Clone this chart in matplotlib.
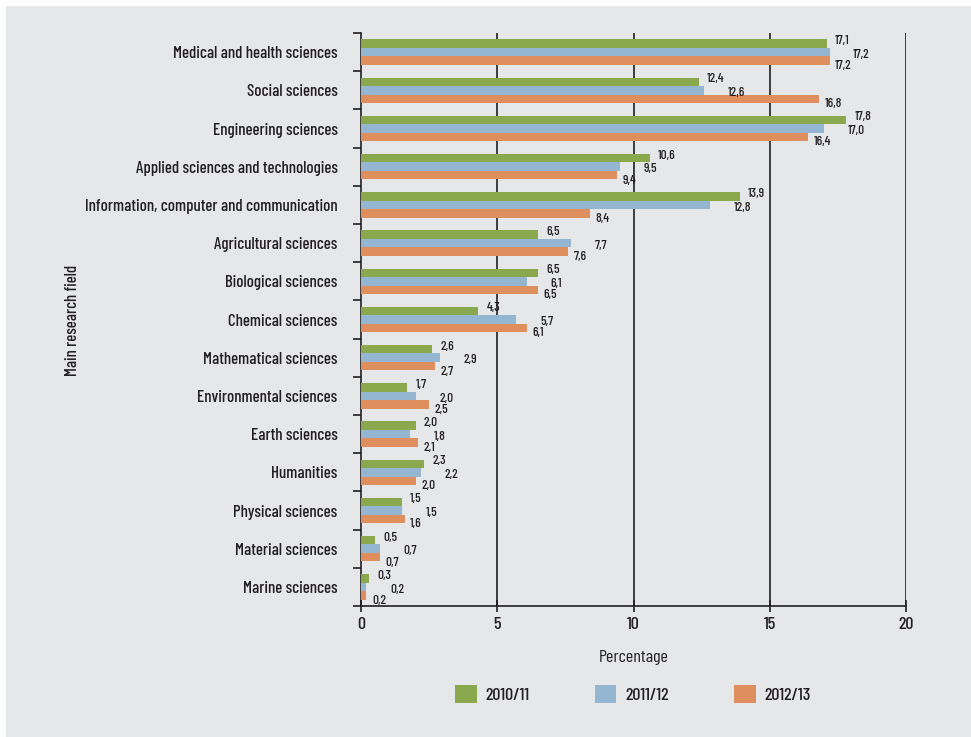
import matplotlib.pyplot as plt
from matplotlib.patches import Rectangle
import numpy as np

plt.rcParams['font.family'] = ['Barlow Condensed', 'Roboto Condensed', 'DejaVu Sans']
plt.rcParams['font.weight'] = 500

fields = ['Medical and health sciences', 'Social sciences', 'Engineering sciences',
          'Applied sciences and technologies', 'Information, computer and communication',
          'Agricultural sciences', 'Biological sciences', 'Chemical sciences',
          'Mathematical sciences', 'Environmental sciences', 'Earth sciences',
          'Humanities', 'Physical sciences', 'Material sciences', 'Marine sciences']
y2010 = [17.1, 12.4, 17.8, 10.6, 13.9, 6.5, 6.5, 4.3, 2.6, 1.7, 2.0, 2.3, 1.5, 0.5, 0.3]
y2011 = [17.2, 12.6, 17.0, 9.5, 12.8, 7.7, 6.1, 5.7, 2.9, 2.0, 1.8, 2.2, 1.5, 0.7, 0.2]
y2012 = [17.2, 16.8, 16.4, 9.4, 8.4, 7.6, 6.5, 6.1, 2.7, 2.5, 2.1, 2.0, 1.6, 0.7, 0.2]
years = ['2010/11', '2011/12', '2012/13']

colors = ['#8aa94f', '#94b6d0', '#df8f5e']
dark = '#231f20'
bg = '#e6e7e9'

fig = plt.figure(figsize=(9.71, 7.37), dpi=100)
fig.patches.append(Rectangle((6/971, 0), 1, 1 - 6/737, transform=fig.transFigure,
                             facecolor=bg, edgecolor='none', zorder=-10))
ax = fig.add_axes([361/971, 1 - 606/737, (906-361)/971, (606-33)/737])
ax.set_facecolor(bg)

n = len(fields)
pos = np.arange(n)
h = 0.22
series = [y2010, y2011, y2012]
# label offsets in points, one per series
dx = [6, 17, 4]
dy = [2, -2, -4]
for i, vals in enumerate(series):
    ypos = pos + (i - 1) * h
    ax.barh(ypos, vals, height=h, color=colors[i], zorder=3, label=years[i])
    for y, v in zip(ypos, vals):
        ax.annotate(f'{v:.1f}'.replace('.', ','), (v, y), xytext=(dx[i], dy[i]),
                    textcoords='offset points', fontsize=9.5, color=dark,
                    va='center', ha='left', zorder=4)

ax.set_ylim(n - 0.5, -0.5)
ax.set_xlim(0, 20)
ax.set_xticks([0, 5, 10, 15, 20])
for x in [5, 10, 15, 20]:
    ax.axvline(x, color=dark, linewidth=1.2, zorder=1)

ax.set_yticks(pos)
ax.set_yticklabels(fields, fontsize=12.2, color=dark)
ax.set_yticks(np.arange(-0.5, n, 1), minor=True)
ax.tick_params(axis='y', which='major', length=0, pad=17)
ax.tick_params(axis='y', which='minor', length=6, width=1.2, color=dark, direction='out')
ax.tick_params(axis='x', length=8, width=1.2, color=dark, direction='inout',
               labelsize=13, labelcolor=dark, pad=4)

for s in ['top', 'right']:
    ax.spines[s].set_visible(False)
for s in ['left', 'bottom']:
    ax.spines[s].set_color(dark)
    ax.spines[s].set_linewidth(1.2)

ax.set_xlabel('Percentage', fontsize=13, color=dark, labelpad=13)
fig.text(72/971, 1 - 320/737, 'Main research field', rotation=90, fontsize=12,
         color=dark, ha='center', va='center')

leg = fig.legend(loc='center', bbox_to_anchor=(633/971, 1 - 694/737), ncol=3,
                 frameon=False, fontsize=13, handlelength=1.2, handleheight=1.2,
                 columnspacing=3.6, handletextpad=0.5)
for t in leg.get_texts():
    t.set_color(dark)

fig.savefig('out.png', dpi=100, facecolor='white')
